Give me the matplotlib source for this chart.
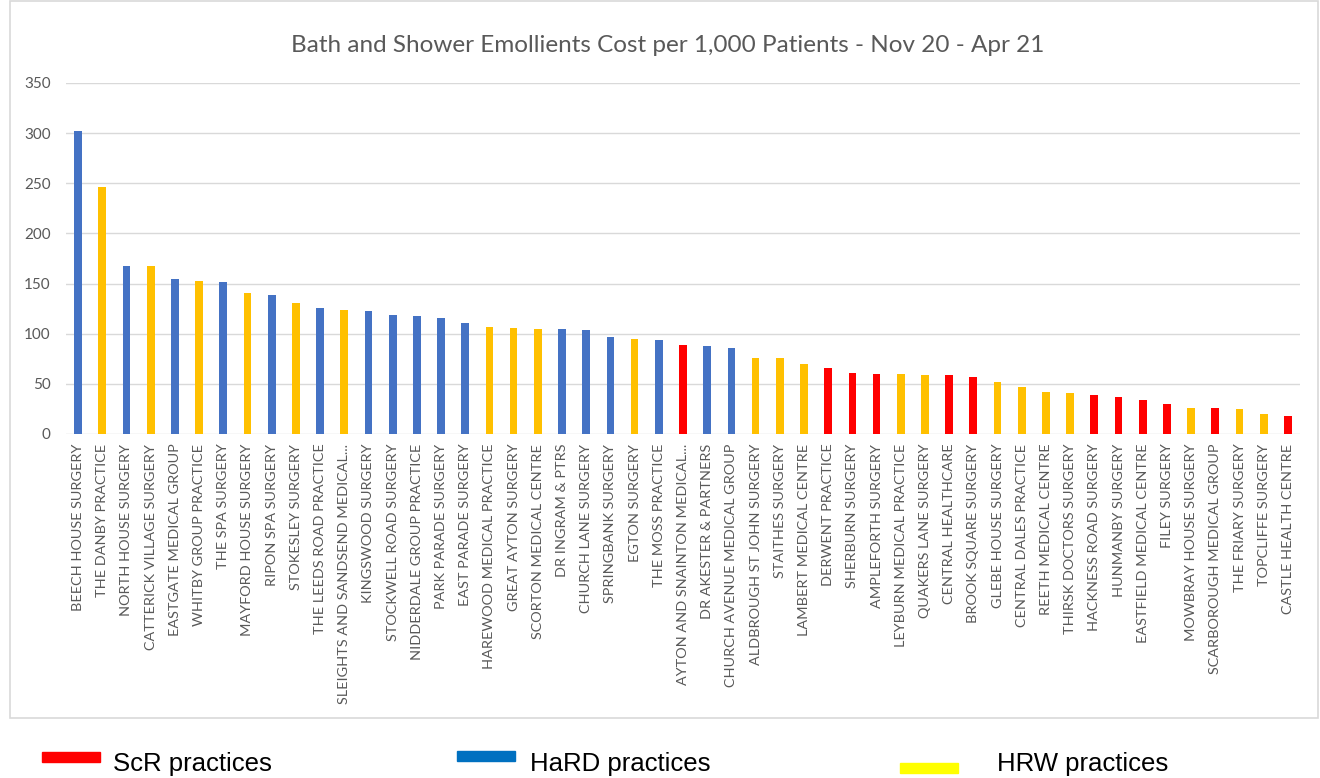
import matplotlib.pyplot as plt
from matplotlib.patches import Rectangle

# Practices, cost per 1,000 patients, and the area each practice belongs to
practices = [
    'BEECH HOUSE SURGERY', 'THE DANBY PRACTICE', 'NORTH HOUSE SURGERY',
    'CATTERICK VILLAGE SURGERY', 'EASTGATE MEDICAL GROUP', 'WHITBY GROUP PRACTICE',
    'THE SPA SURGERY', 'MAYFORD HOUSE SURGERY', 'RIPON SPA SURGERY',
    'STOKESLEY SURGERY', 'THE LEEDS ROAD PRACTICE', 'SLEIGHTS AND SANDSEND MEDICAL...',
    'KINGSWOOD SURGERY', 'STOCKWELL ROAD SURGERY', 'NIDDERDALE GROUP PRACTICE',
    'PARK PARADE SURGERY', 'EAST PARADE SURGERY', 'HAREWOOD MEDICAL PRACTICE',
    'GREAT AYTON SURGERY', 'SCORTON MEDICAL CENTRE', 'DR INGRAM & PTRS',
    'CHURCH LANE SURGERY', 'SPRINGBANK SURGERY', 'EGTON SURGERY',
    'THE MOSS PRACTICE', 'AYTON AND SNAINTON MEDICAL...', 'DR AKESTER & PARTNERS',
    'CHURCH AVENUE MEDICAL GROUP', 'ALDBROUGH ST JOHN SURGERY', 'STAITHES SURGERY',
    'LAMBERT MEDICAL CENTRE', 'DERWENT PRACTICE', 'SHERBURN SURGERY',
    'AMPLEFORTH SURGERY', 'LEYBURN MEDICAL PRACTICE', 'QUAKERS LANE SURGERY',
    'CENTRAL HEALTHCARE', 'BROOK SQUARE SURGERY', 'GLEBE HOUSE SURGERY',
    'CENTRAL DALES PRACTICE', 'REETH MEDICAL CENTRE', 'THIRSK DOCTORS SURGERY',
    'HACKNESS ROAD SURGERY', 'HUNMANBY SURGERY', 'EASTFIELD MEDICAL CENTRE',
    'FILEY SURGERY', 'MOWBRAY HOUSE SURGERY', 'SCARBOROUGH MEDICAL GROUP',
    'THE FRIARY SURGERY', 'TOPCLIFFE SURGERY', 'CASTLE HEALTH CENTRE',
]
cost = [
    302, 246, 168, 168, 155, 153, 152, 141, 139, 131,
    126, 124, 123, 119, 118, 116, 111, 107, 106, 105,
    105, 104, 97, 95, 94, 89, 88, 86, 76, 76,
    70, 66, 61, 60, 60, 59, 59, 57, 52, 47,
    42, 41, 39, 37, 34, 30, 26, 26, 25, 20, 18,
]
area = [
    'HaRD', 'HRW', 'HaRD', 'HRW', 'HaRD', 'HRW', 'HaRD', 'HRW', 'HaRD', 'HRW',
    'HaRD', 'HRW', 'HaRD', 'HaRD', 'HaRD', 'HaRD', 'HaRD', 'HRW', 'HRW', 'HRW',
    'HaRD', 'HaRD', 'HaRD', 'HRW', 'HaRD', 'ScR', 'HaRD', 'HaRD', 'HRW', 'HRW',
    'HRW', 'ScR', 'ScR', 'ScR', 'HRW', 'HRW', 'ScR', 'ScR', 'HRW', 'HRW',
    'HRW', 'HRW', 'ScR', 'ScR', 'ScR', 'ScR', 'HRW', 'ScR', 'HRW', 'HRW', 'ScR',
]

bar_colours = {'HaRD': '#4472C4', 'HRW': '#FFC000', 'ScR': '#FF0000'}
plt.rcParams['font.family'] = ['Lato', 'DejaVu Sans']

fig = plt.figure(figsize=(13.2, 7.78), dpi=100)

# Chart border like the Excel chart area
fig.patches.append(Rectangle((10 / 1320, 1 - 718 / 778), 1308 / 1320, 717 / 778,
                             transform=fig.transFigure, fill=False,
                             edgecolor='#D9D9D9', linewidth=1.2))

ax = fig.add_axes([66 / 1320, 1 - 434 / 778, 1234 / 1320, 351 / 778])
x = range(len(practices))
ax.bar(x, cost, width=0.32, color=[bar_colours[a] for a in area], zorder=3)

ax.set_ylim(0, 350)
ax.set_xlim(-0.5, len(practices) - 0.5)
ax.set_yticks(range(0, 351, 50))
ax.yaxis.grid(True, color='#D9D9D9', linewidth=1, zorder=0)
for s in ax.spines.values():
    s.set_visible(False)
ax.tick_params(axis='both', length=0, colors='#595959')
ax.tick_params(axis='y', labelsize=11, pad=11)
ax.set_xticks(list(x))
ax.set_xticklabels(practices, rotation=90, fontsize=10.4, color='#595959')
ax.tick_params(axis='x', pad=7)

fig.text(668 / 1320, 1 - 45 / 778, 'Bath and Shower Emollients Cost per 1,000 Patients - Nov 20 - Apr 21',
         ha='center', va='center', fontsize=17.5, color='#595959')

# Legend drawn under the chart box
legend_items = [
    ('ScR practices', '#FF0000', 42, 752, 113),
    ('HaRD practices', '#0070C0', 457, 751, 530),
    ('HRW practices', '#FFFF00', 900, 763, 997),
]
for label, colour, px, py, tx in legend_items:
    fig.patches.append(Rectangle((px / 1320, 1 - (py + 10) / 778), 58 / 1320, 10 / 778,
                                 transform=fig.transFigure, color=colour))
    fig.text(tx / 1320, 1 - 776 / 778, label, ha='left', va='bottom',
             fontsize=18.5, family='Liberation Sans', color='black')

plt.savefig('out.png', dpi=100)
